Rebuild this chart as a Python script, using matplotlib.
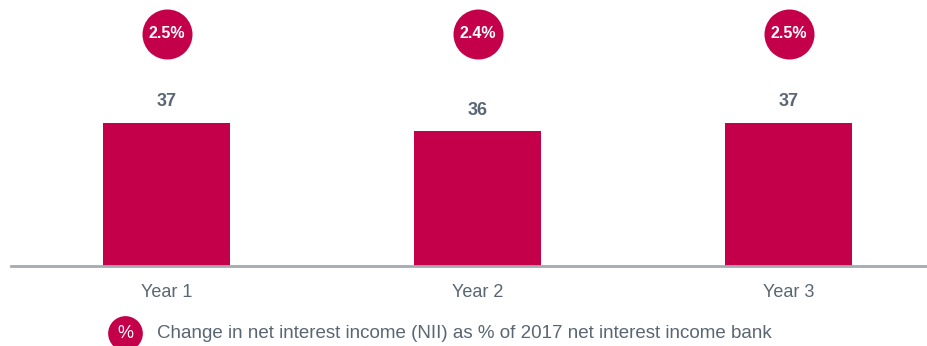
import matplotlib
matplotlib.use("Agg")
import matplotlib.pyplot as plt

# data
years = ["Year 1", "Year 2", "Year 3"]
nii_values = [37, 36, 37]
nii_pct = ["2.5%", "2.4%", "2.5%"]
legend_text = "Change in net interest income (NII) as % of 2017 net interest income bank"

crimson = "#C4004A"
grey_text = "#5A6673"
plt.rcParams["font.family"] = ["Liberation Sans", "DejaVu Sans"]

W, H = 928, 346
fig = plt.figure(figsize=(W / 100, H / 100), dpi=100)

# axes: left edge at the start of the baseline, bottom on the baseline
base_px = 265.5
ax = fig.add_axes([11 / W, (H - base_px) / H, 917 / W, base_px / H])
y0 = 21.1
px_per_unit = 143 / (37 - y0)
ax.set_ylim(y0, y0 + base_px / px_per_unit)
ax.set_xlim(-0.5, -0.5 + 917 / 311)

x = list(range(len(years)))
ax.bar(x, nii_values, width=127 / 311, color=crimson, zorder=2)

for xi, v in zip(x, nii_values):
    ax.annotate(str(v), (xi, v), xytext=(0, 12), textcoords="offset points",
                ha="center", va="baseline", fontsize=13, fontweight="bold",
                color=grey_text)

# percentage bubbles above the bars
circ_y = y0 + (base_px - 34) / px_per_unit
ax.scatter(x, [circ_y] * len(x), s=36 ** 2, color=crimson, zorder=3,
           linewidths=0, clip_on=False)
for xi, p in zip(x, nii_pct):
    ax.text(xi, circ_y, p, ha="center", va="center", fontsize=11.5,
            fontweight="bold", color="white", zorder=4)

# baseline
ax.axhline(y0, color="#A3AAB2", lw=2, zorder=3, clip_on=False)

ax.set_xticks(x)
ax.set_xticklabels(years, fontsize=13, color=grey_text)
ax.tick_params(axis="x", length=0, pad=13)
ax.set_yticks([])
for s in ax.spines.values():
    s.set_visible(False)
ax.patch.set_alpha(0)

# legend bubble
leg_y = (H - 333) / H
ax.plot([125 / W], [leg_y], marker="o", markersize=25, color=crimson,
        markeredgewidth=0, transform=fig.transFigure, clip_on=False)
fig.text(125 / W, leg_y, "%", ha="center", va="center",
         fontsize=13, color="white")
fig.text(157 / W, leg_y, legend_text, ha="left", va="center",
         fontsize=13.5, color=grey_text)

fig.savefig("out.png", dpi=100)
